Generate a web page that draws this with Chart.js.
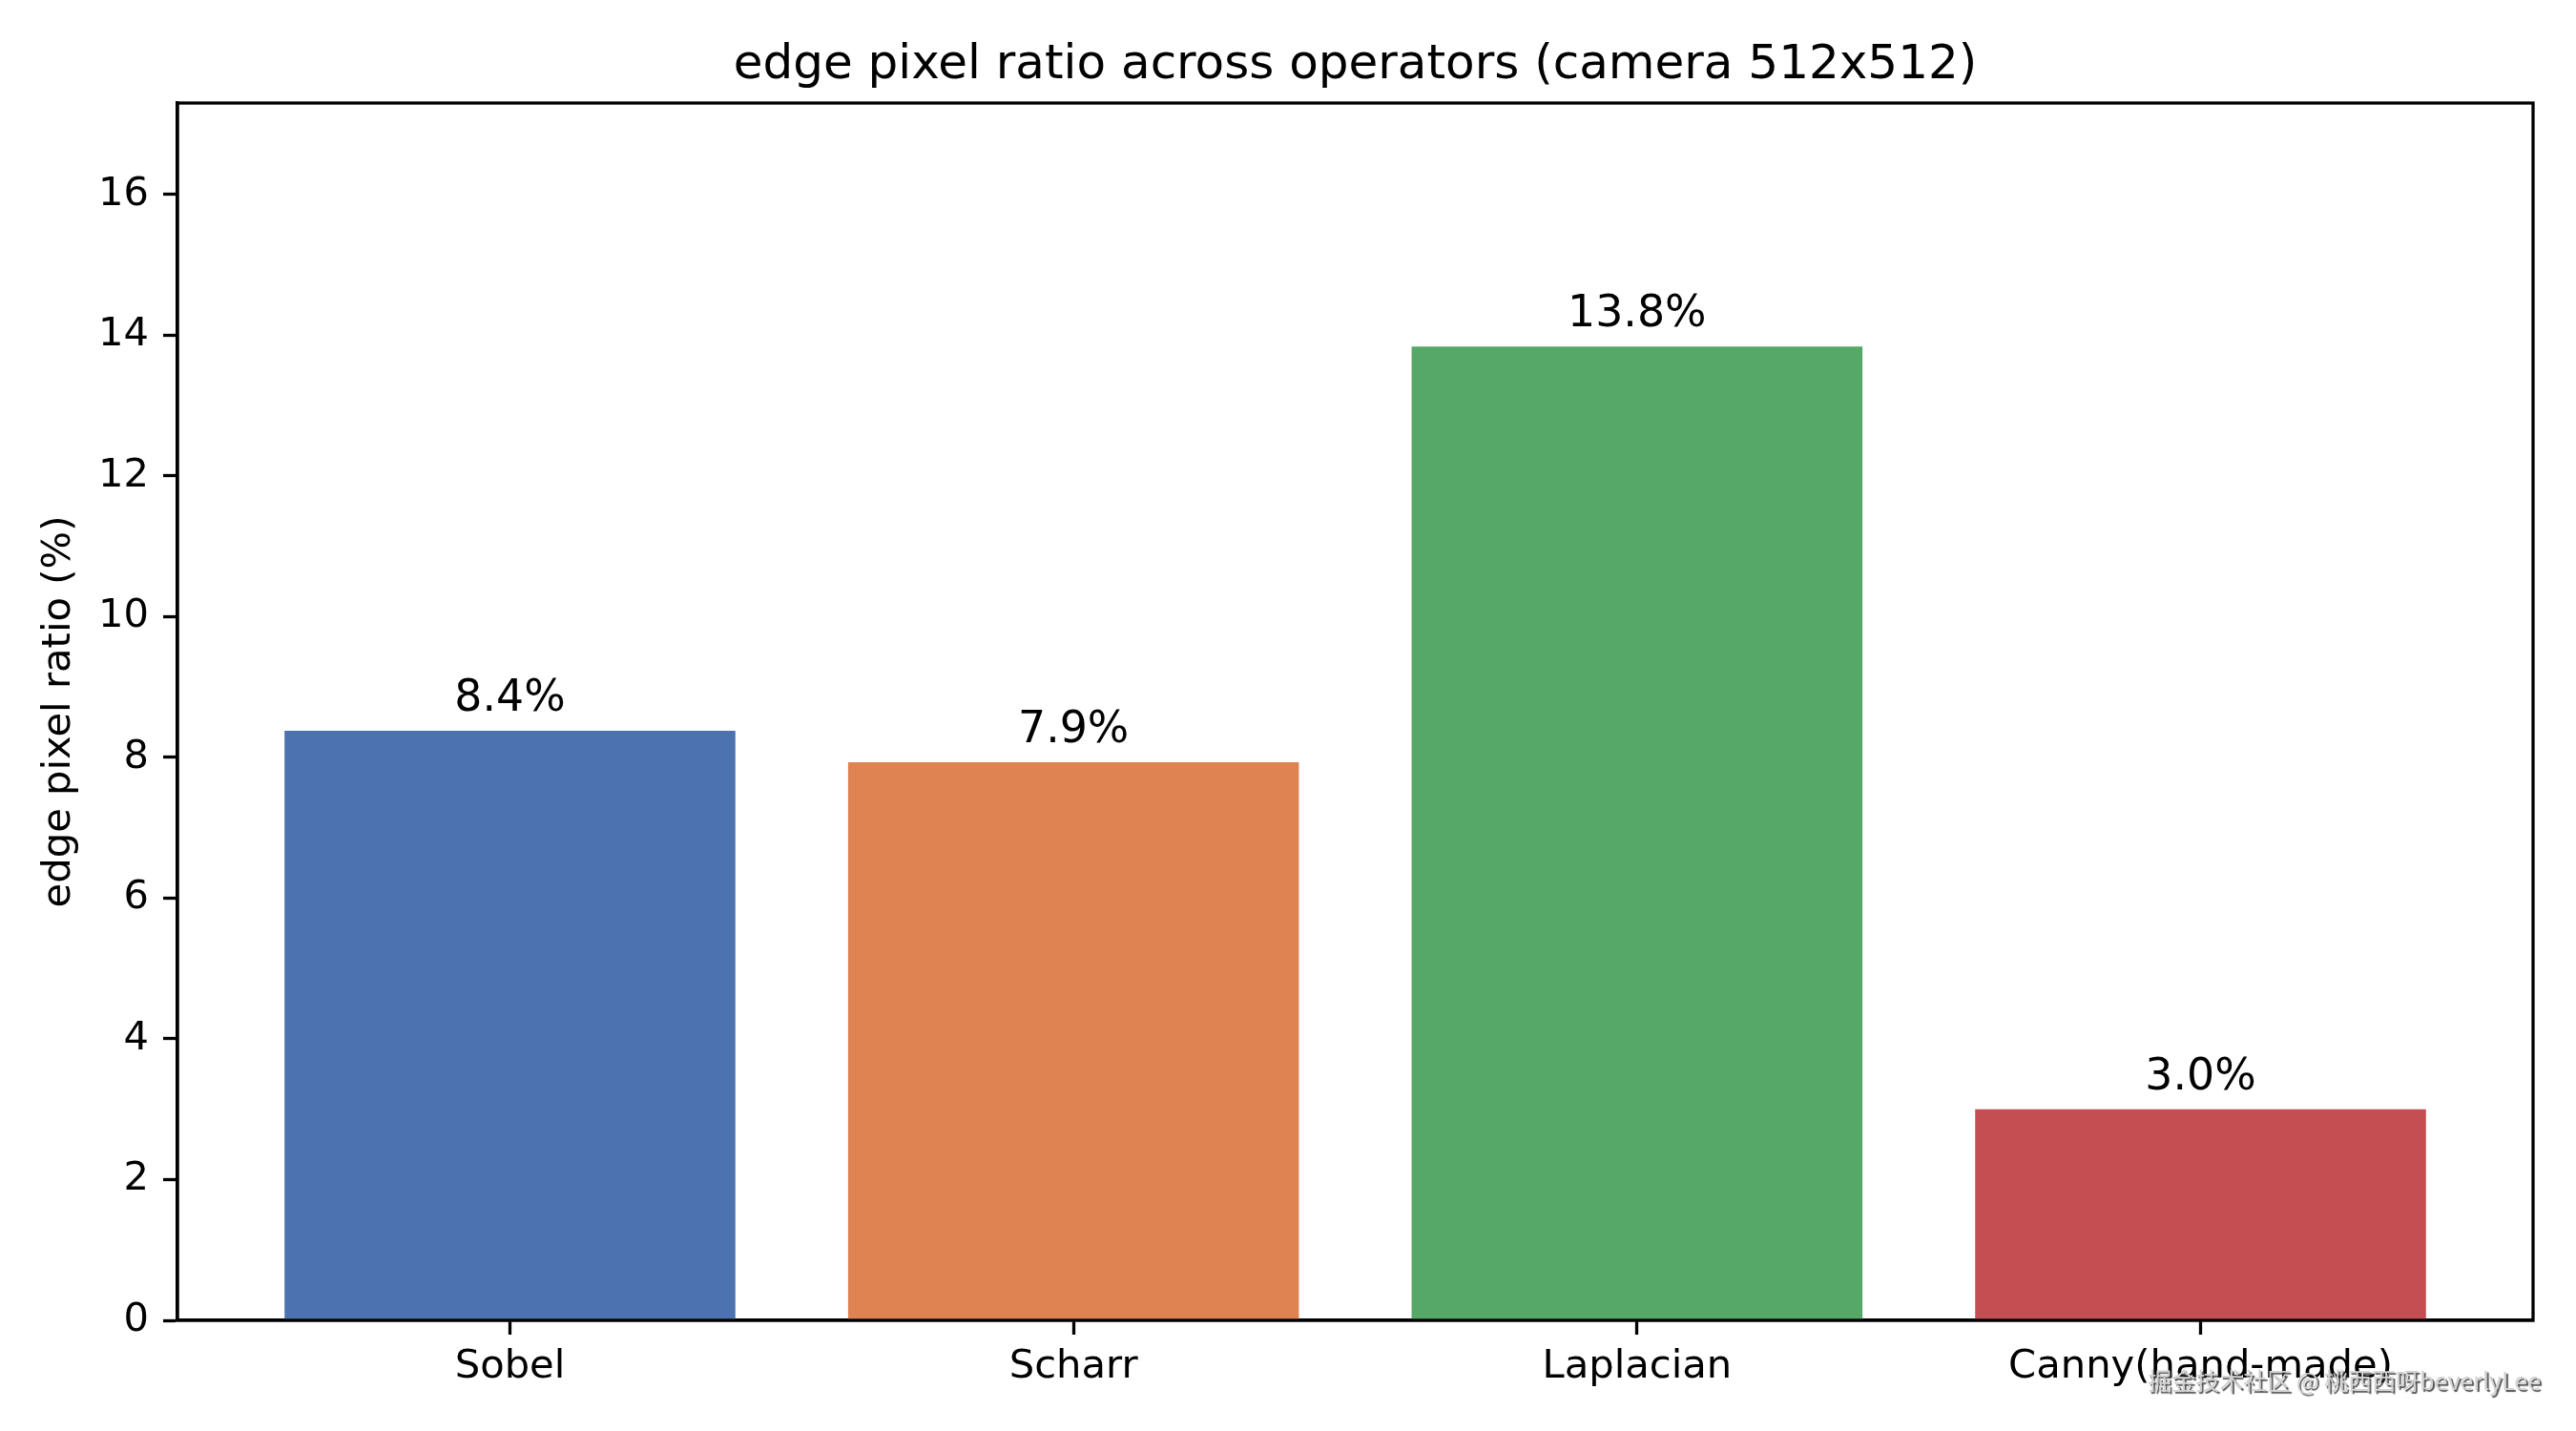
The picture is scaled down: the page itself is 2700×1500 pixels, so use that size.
<!DOCTYPE html>
<html>
<head>
<meta charset="utf-8">
<script src="https://cdn.jsdelivr.net/npm/chart.js@4.4.1/dist/chart.umd.min.js"></script>
<style>
html,body{margin:0;padding:0;background:#fff;}
canvas{display:block;}
</style>
</head>
<body>
<canvas id="c" width="2700" height="1500"></canvas>
<script>
const categories = ['Sobel', 'Scharr', 'Laplacian', 'Canny(hand-made)'];
const ratios = [8.38, 7.93, 13.84, 3.00];
const barColors = ['#4c72b0', '#dd8452', '#55a868', '#c44e52'];
const yTicks = [0, 2, 4, 6, 8, 10, 12, 14, 16];
const titleText = 'edge pixel ratio across operators (camera 512x512)';
const yLabel = 'edge pixel ratio (%)';
const watermark = '掘金技术社区 @ 桃西西呀beverlyLee';

const FONT = "'DejaVu Sans', sans-serif";
const LW = 3.3;

const framePlugin = {
  id: 'frame',
  afterDatasetsDraw(chart) {
    const {ctx, chartArea: a} = chart;
    ctx.save();
    ctx.strokeStyle = '#000';
    ctx.lineWidth = LW;
    ctx.strokeRect(a.left, a.top, a.right - a.left, a.bottom - a.top);
    ctx.restore();
  }
};

const barLabelPlugin = {
  id: 'barLabels',
  afterDatasetsDraw(chart) {
    const {ctx} = chart;
    const meta = chart.getDatasetMeta(0);
    ctx.save();
    ctx.font = '45.8px ' + FONT;
    ctx.fillStyle = '#000';
    ctx.textAlign = 'center';
    ctx.textBaseline = 'alphabetic';
    meta.data.forEach((bar, i) => {
      ctx.fillText(ratios[i].toFixed(1) + '%', bar.x, bar.y - 21);
    });
    ctx.restore();
  }
};

const watermarkPlugin = {
  id: 'watermark',
  afterDraw(chart) {
    const {ctx} = chart;
    ctx.save();
    ctx.font = "25px 'Noto Sans CJK SC', 'DejaVu Sans', sans-serif";
    ctx.textAlign = 'right';
    ctx.textBaseline = 'alphabetic';
    ctx.shadowColor = 'rgba(50,50,50,0.85)';
    ctx.shadowOffsetX = 2;
    ctx.shadowOffsetY = 2;
    ctx.shadowBlur = 1;
    ctx.fillStyle = '#d2d2d2';
    ctx.fillText(watermark, 2663, 1457);
    ctx.restore();
  }
};

new Chart(document.getElementById('c'), {
  type: 'bar',
  data: {
    datasets: [{
      data: ratios.map((v, i) => ({x: i, y: v})),
      backgroundColor: barColors,
      borderWidth: 0,
      categoryPercentage: 1.0,
      barPercentage: 0.8
    }]
  },
  options: {
    responsive: false,
    devicePixelRatio: 1,
    animation: false,
    layout: {padding: {left: 0, right: 45, top: 0, bottom: 0}},
    plugins: {
      legend: {display: false},
      tooltip: {enabled: false},
      title: {
        display: true,
        text: titleText,
        fullSize: false,
        color: '#000',
        font: {family: FONT, size: 50, weight: 'normal', lineHeight: 1.2},
        padding: {top: 39, bottom: 9}
      }
    },
    scales: {
      x: {
        type: 'linear',
        offset: false,
        min: -0.59,
        max: 3.59,
        afterBuildTicks: s => { s.ticks = categories.map((c, i) => ({value: i})); },
        afterFit: s => { s.height = 116; },
        grid: {offset: false, drawOnChartArea: false, drawTicks: true, tickLength: 15, tickWidth: LW, tickColor: '#000'},
        border: {display: true, color: '#000', width: LW},
        ticks: {
          autoSkip: false,
          maxRotation: 0,
          padding: 9,
          color: '#000',
          font: {family: FONT, size: 41.7},
          callback: v => categories[Math.round(v)]
        }
      },
      y: {
        type: 'linear',
        min: 0,
        max: 17.3,
        afterBuildTicks: s => { s.ticks = yTicks.map(v => ({value: v})); },
        afterFit: s => { s.width = 186; },
        grid: {drawOnChartArea: false, drawTicks: true, tickLength: 15, tickWidth: LW, tickColor: '#000'},
        border: {display: true, color: '#000', width: LW},
        ticks: {
          padding: 15,
          color: '#000',
          font: {family: FONT, size: 41.7},
          callback: v => String(v)
        },
        title: {
          display: true,
          text: yLabel,
          color: '#000',
          font: {family: FONT, size: 41.7, lineHeight: 1.2},
          padding: {top: 37, bottom: 0}
        }
      }
    }
  },
  plugins: [framePlugin, barLabelPlugin, watermarkPlugin]
});
</script>
</body>
</html>
